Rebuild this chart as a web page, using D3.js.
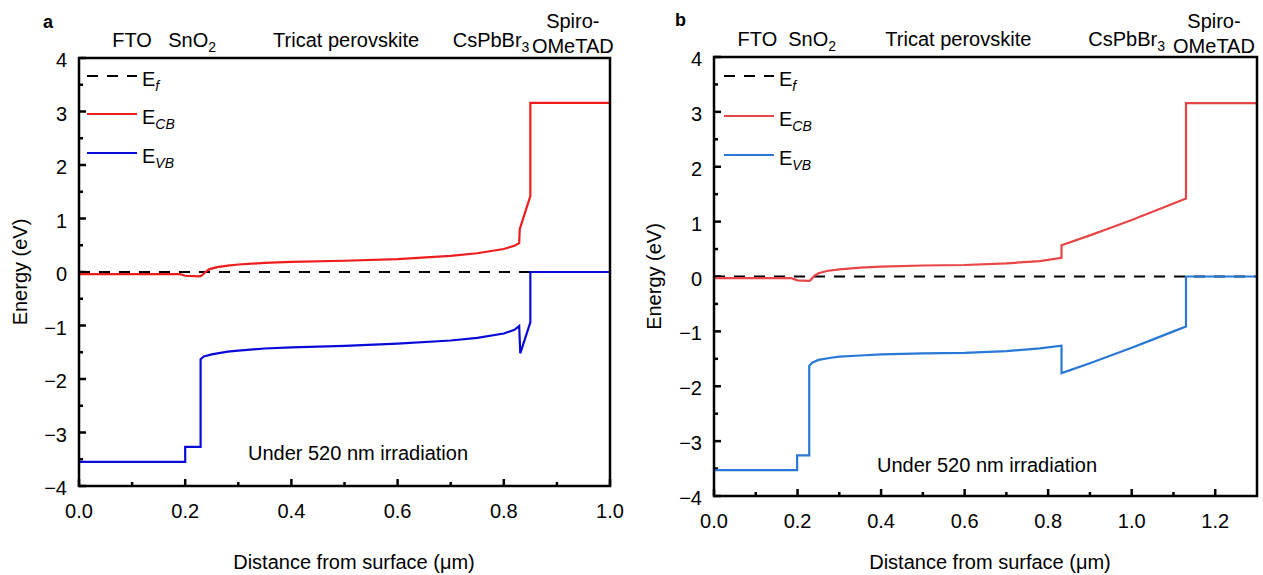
<!DOCTYPE html>
<html>
<head>
<meta charset="utf-8">
<script src="https://cdn.jsdelivr.net/npm/d3@7"></script>
<style>
  html, body { margin: 0; padding: 0; background: #fff; }
  svg { display: block; font-family: "Liberation Sans", Arial, sans-serif; }
</style>
</head>
<body>
<svg id="chart" width="1263" height="575"></svg>
<script>
// ---- Band energies (eV) versus distance from surface (µm) ----

// Panel a
const aCBx = [0, 0.19, 0.2, 0.228, 0.232, 0.238, 0.245, 0.26, 0.28, 0.3, 0.35, 0.4, 0.5, 0.6, 0.7, 0.75, 0.8, 0.82, 0.829, 0.83, 0.85, 0.85, 1.0];
const aCBe = [-0.04, -0.04, -0.07, -0.08, -0.06, 0.0, 0.05, 0.09, 0.12, 0.14, 0.17, 0.19, 0.21, 0.24, 0.30, 0.35, 0.43, 0.49, 0.54, 0.80, 1.42, 3.16, 3.16];
const aVBx = [0, 0.2, 0.2, 0.229, 0.229, 0.235, 0.25, 0.28, 0.3, 0.35, 0.4, 0.5, 0.6, 0.7, 0.75, 0.8, 0.82, 0.829, 0.831, 0.85, 0.85, 1.0];
const aVBe = [-3.55, -3.55, -3.27, -3.27, -1.63, -1.58, -1.54, -1.49, -1.47, -1.43, -1.41, -1.38, -1.34, -1.28, -1.23, -1.15, -1.08, -1.01, -1.52, -0.94, 0, 0];
const aEfx = [0, 1.0];
const aEfe = [0, 0];

// Panel b
const bCBx = [0, 0.185, 0.2, 0.228, 0.232, 0.24, 0.25, 0.27, 0.3, 0.35, 0.4, 0.5, 0.6, 0.7, 0.78, 0.832, 0.832, 0.9, 0.95, 1.0, 1.05, 1.1, 1.13, 1.13, 1.3];
const bCBe = [-0.03, -0.03, -0.07, -0.08, -0.06, 0.01, 0.06, 0.10, 0.13, 0.16, 0.18, 0.20, 0.21, 0.24, 0.28, 0.34, 0.57, 0.75, 0.89, 1.03, 1.18, 1.33, 1.42, 3.16, 3.16];
const bVBx = [0, 0.199, 0.199, 0.228, 0.228, 0.235, 0.25, 0.28, 0.3, 0.35, 0.4, 0.5, 0.6, 0.7, 0.78, 0.832, 0.832, 0.9, 0.95, 1.0, 1.05, 1.1, 1.13, 1.13, 1.3];
const bVBe = [-3.53, -3.53, -3.26, -3.26, -1.63, -1.57, -1.52, -1.48, -1.46, -1.44, -1.42, -1.40, -1.39, -1.36, -1.31, -1.26, -1.76, -1.58, -1.44, -1.30, -1.15, -1.00, -0.91, 0, 0];
const bEfx = [0, 1.3];
const bEfe = [0, 0];

// Axis ticks
const yTicks = [-4, -3, -2, -1, 0, 1, 2, 3, 4];
const yMinor = [-3.5, -2.5, -1.5, -0.5, 0.5, 1.5, 2.5, 3.5];
const xTicksA = [0, 0.2, 0.4, 0.6, 0.8, 1.0];
const xMinorA = [0.1, 0.3, 0.5, 0.7, 0.9];
const xTicksB = [0, 0.2, 0.4, 0.6, 0.8, 1.0, 1.2];
const xMinorB = [0.1, 0.3, 0.5, 0.7, 0.9, 1.1];

// Layer names above each panel: [text, subscript, x position (µm)]
const layersA = [["FTO", "", 0.10], ["SnO", "2", 0.213], ["Tricat perovskite", "", 0.503], ["CsPbBr", "3", 0.776]];
const layersB = [["FTO", "", 0.104], ["SnO", "2", 0.235], ["Tricat perovskite", "", 0.585], ["CsPbBr", "3", 0.988]];
const spiroA = 0.93;
const spiroB = 1.197;

const legendNames = [["E", "f"], ["E", "CB"], ["E", "VB"]];

const svg = d3.select("#chart");
const FONT = "'Liberation Sans', Arial, sans-serif";

function drawPanel(p) {
  const x = d3.scaleLinear().domain(p.xDomain).range([p.left, p.right]);
  const y = d3.scaleLinear().domain([-4, 4]).range([p.bottom, p.top]);
  const g = svg.append("g");

  // inward ticks on the left and bottom edges
  const tg = g.append("g").attr("stroke", "#000").attr("stroke-width", 2.5);
  yTicks.forEach(v => tg.append("line").attr("x1", p.left).attr("x2", p.left + 7).attr("y1", y(v)).attr("y2", y(v)));
  yMinor.forEach(v => tg.append("line").attr("x1", p.left).attr("x2", p.left + 4).attr("y1", y(v)).attr("y2", y(v)));
  p.xTicks.forEach(v => tg.append("line").attr("x1", x(v)).attr("x2", x(v)).attr("y1", p.bottom).attr("y2", p.bottom - 7));
  p.xMinor.forEach(v => tg.append("line").attr("x1", x(v)).attr("x2", x(v)).attr("y1", p.bottom).attr("y2", p.bottom - 4));

  // tick labels
  const fy = d3.format("d"), fx = d3.format(".1f");
  yTicks.forEach(v => g.append("text").attr("x", p.left - 12).attr("y", y(v)).attr("dy", "0.45em")
    .attr("text-anchor", "end").style("font-size", "20px").text(fy(v)));
  p.xTicks.forEach(v => g.append("text").attr("x", x(v)).attr("y", p.bottom + 32)
    .attr("text-anchor", "middle").style("font-size", "20px").text(fx(v)));

  const line = d3.line().x(d => x(d[0])).y(d => y(d[1]));
  const zip = (xs, es) => xs.map((v, i) => [v, es[i]]);

  // Fermi level
  g.append("path").datum(zip(p.efx, p.efe)).attr("d", line)
    .attr("fill", "none").attr("stroke", "#000").attr("stroke-width", 2).attr("stroke-dasharray", "11,9");
  // Conduction band
  g.append("path").datum(zip(p.cbx, p.cbe)).attr("d", line)
    .attr("fill", "none").attr("stroke", p.cbColor).attr("stroke-width", 2.2).attr("stroke-linejoin", "miter");
  // Valence band
  g.append("path").datum(zip(p.vbx, p.vbe)).attr("d", line)
    .attr("fill", "none").attr("stroke", p.vbColor).attr("stroke-width", 2.2).attr("stroke-linejoin", "miter");

  // frame
  g.append("rect").attr("x", p.left).attr("y", p.top)
    .attr("width", p.right - p.left).attr("height", p.bottom - p.top)
    .attr("fill", "none").attr("stroke", "#000").attr("stroke-width", 2.5);

  // legend
  const legStyles = [
    { stroke: "#000", dash: "11,9" },
    { stroke: p.cbColor, dash: null },
    { stroke: p.vbColor, dash: null }
  ];
  legendNames.forEach((nm, i) => {
    const ly = p.legendY[i];
    g.append("line").attr("x1", p.legendX).attr("x2", p.legendX + 50).attr("y1", ly).attr("y2", ly)
      .attr("stroke", legStyles[i].stroke).attr("stroke-width", 2)
      .attr("stroke-dasharray", legStyles[i].dash);
    const t = g.append("text").attr("x", p.legendX + 55).attr("y", ly + 10)
      .style("font-size", "20px").attr("fill", "#000");
    t.append("tspan").text(nm[0]);
    t.append("tspan").attr("dy", 5).style("font-size", "14px").style("font-style", "italic").text(nm[1]);
  });

  // layer names
  p.layers.forEach(l => {
    const t = g.append("text").attr("x", x(l[2])).attr("y", p.layerY)
      .attr("text-anchor", "middle").style("font-size", "20px").attr("fill", "#000");
    t.append("tspan").text(l[0]);
    if (l[1]) t.append("tspan").attr("dy", 5).style("font-size", "14px").text(l[1]);
  });
  g.append("text").attr("x", x(p.spiro)).attr("y", 28).attr("text-anchor", "middle")
    .style("font-size", "20px").text("Spiro-");
  g.append("text").attr("x", x(p.spiro)).attr("y", 53).attr("text-anchor", "middle")
    .style("font-size", "20px").text("OMeTAD");

  // annotation
  g.append("text").attr("x", p.noteX).attr("y", p.noteY).attr("text-anchor", "middle")
    .style("font-size", "20px").text("Under 520 nm irradiation");

  // axis titles
  g.append("text").attr("transform", `translate(${p.yTitleX},${(p.top + p.bottom) / 2}) rotate(-90)`)
    .attr("text-anchor", "middle").style("font-size", "20px").text("Energy (eV)");
  g.append("text").attr("x", p.xTitleX).attr("y", 569).attr("text-anchor", "middle")
    .style("font-size", "20px").text("Distance from surface (\u03bcm)");

  // panel letter
  g.append("text").attr("x", p.letterX).attr("y", p.letterY)
    .style("font-size", "18px").style("font-weight", "bold").text(p.letter);
}

drawPanel({
  letter: "a", letterX: 43, letterY: 28,
  left: 79, right: 610, top: 58, bottom: 486,
  xDomain: [0, 1.0], xTicks: xTicksA, xMinor: xMinorA,
  cbx: aCBx, cbe: aCBe, vbx: aVBx, vbe: aVBe, efx: aEfx, efe: aEfe,
  cbColor: "#ee1c1c", vbColor: "#0a0ad8",
  legendX: 87, legendY: [76, 114, 153],
  layers: layersA, layerY: 47, spiro: spiroA,
  noteX: 358, noteY: 460,
  yTitleX: 27, xTitleX: 354
});

drawPanel({
  letter: "b", letterX: 675, letterY: 26,
  left: 714, right: 1257, top: 57, bottom: 496,
  xDomain: [0, 1.3], xTicks: xTicksB, xMinor: xMinorB,
  cbx: bCBx, cbe: bCBe, vbx: bVBx, vbe: bVBe, efx: bEfx, efe: bEfe,
  cbColor: "#e84646", vbColor: "#2a78d6",
  legendX: 724, legendY: [76, 116, 155],
  layers: layersB, layerY: 46, spiro: spiroB,
  noteX: 987, noteY: 472,
  yTitleX: 661, xTitleX: 990
});
</script>
</body>
</html>
